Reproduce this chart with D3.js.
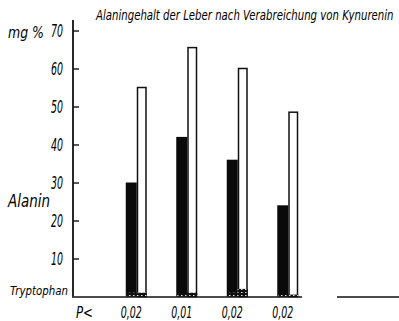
<!DOCTYPE html>
<html><head><meta charset="utf-8">
<script src="https://cdn.jsdelivr.net/npm/d3@7"></script>
<style>body{margin:0;background:#fff}svg{display:block}text{font-family:"Liberation Sans Narrow","DejaVu Sans Condensed",sans-serif;font-style:italic;fill:#000}</style>
</head><body><svg id="c" width="399" height="321"></svg>
<script>
const categories = ["A","B","C","D"];
const pLabels = ["0,02","0,01","0,02","0,02"];
const alaninControl = [30, 42, 36, 24];
const alaninKynurenin = [55, 65.5, 60, 48.5];
const tryptophanControl = [1, 0.8, 1, 0.5];
const tryptophanKynurenin = [1, 1, 2, 0.5];
const yTicks = [10,20,30,40,50,60,70];
const title = "Alaningehalt der Leber nach Verabreichung von Kynurenin";

const svg = d3.select("#c");
const defs = svg.append("defs");
const pat = defs.append("pattern").attr("id","hatch").attr("patternUnits","userSpaceOnUse").attr("width",4).attr("height",3);
pat.append("rect").attr("width",4).attr("height",3).attr("fill","#111");
pat.append("rect").attr("x",1).attr("y",1).attr("width",1.5).attr("height",1).attr("fill","#ddd");

const y = d3.scaleLinear().domain([0,70]).range([296.5,30.5]);
const x = d3.scaleBand().domain(categories).range([111.5,313.5]);
const bw = 11;

// y axis
const ax = svg.append("g").attr("transform","translate(73,0)")
  .call(d3.axisRight(y).tickValues(yTicks).tickSize(6).tickFormat(""));
ax.select(".domain").remove();
ax.selectAll(".tick line").attr("stroke","#111").attr("stroke-width",1.4);
svg.append("line").attr("x1",73).attr("x2",73).attr("y1",20).attr("y2",y(0)).attr("stroke","#111").attr("stroke-width",1.8);
// baseline
svg.append("line").attr("x1",72).attr("x2",302).attr("y1",y(0)+0.5).attr("y2",y(0)+0.5).attr("stroke","#111").attr("stroke-width",1.5);
svg.append("line").attr("x1",337).attr("x2",399).attr("y1",y(0)+0.5).attr("y2",y(0)+0.5).attr("stroke","#111").attr("stroke-width",1.3);

svg.selectAll(".tl").data(yTicks).join("text").attr("class","tl")
  .attr("x",63).attr("y",d=>y(d)+6).attr("text-anchor","end").attr("font-size",17)
  .attr("textLength",12).attr("lengthAdjust","spacingAndGlyphs").text(d=>d);

// bars
const mid = c => x(c) + x.bandwidth()/2;
svg.selectAll(".bc").data(categories).join("rect").attr("class","bc")
  .attr("x",c=>mid(c)-bw).attr("width",bw)
  .attr("y",(c,i)=>y(alaninControl[i])).attr("height",(c,i)=>y(0)-y(alaninControl[i]))
  .attr("fill","#0a0a0a");
svg.selectAll(".bk").data(categories).join("rect").attr("class","bk")
  .attr("x",c=>mid(c)+0.75).attr("width",bw-2.5)
  .attr("y",(c,i)=>y(alaninKynurenin[i])).attr("height",(c,i)=>y(0)-y(alaninKynurenin[i]))
  .attr("fill","#fff").attr("stroke","#111").attr("stroke-width",1.5);
svg.selectAll(".tc").data(categories).join("rect").attr("class","tc")
  .attr("x",c=>mid(c)-bw+1).attr("width",bw-1)
  .attr("y",(c,i)=>y(tryptophanControl[i])).attr("height",(c,i)=>y(0)-y(tryptophanControl[i]))
  .attr("fill","url(#hatch)");
svg.selectAll(".tk").data(categories).join("rect").attr("class","tk")
  .attr("x",c=>mid(c)).attr("width",bw-1)
  .attr("y",(c,i)=>y(tryptophanKynurenin[i])).attr("height",(c,i)=>y(0)-y(tryptophanKynurenin[i]))
  .attr("fill","url(#hatch)");

// x labels
svg.selectAll(".xl").data(categories).join("text").attr("class","xl")
  .attr("x",c=>mid(c)-5.5).attr("y",318).attr("text-anchor","middle").attr("font-size",16)
  .attr("textLength",21).attr("lengthAdjust","spacingAndGlyphs").text((c,i)=>pLabels[i]);
svg.append("text").attr("x",76).attr("y",318).attr("font-size",16).text("P<")
  .attr("textLength",17).attr("lengthAdjust","spacingAndGlyphs");

svg.append("text").attr("x",8).attr("y",38).attr("font-size",15).text("mg %")
  .attr("textLength",36).attr("lengthAdjust","spacingAndGlyphs");
svg.append("text").attr("x",8).attr("y",207).attr("font-size",17).text("Alanin")
  .attr("textLength",42).attr("lengthAdjust","spacingAndGlyphs");
svg.append("text").attr("x",10).attr("y",295).attr("font-size",13).text("Tryptophan")
  .attr("textLength",58).attr("lengthAdjust","spacingAndGlyphs");
svg.append("text").attr("transform","translate(96,20) scale(1,1.2)").attr("font-size",11.3).text(title);
</script></body></html>
